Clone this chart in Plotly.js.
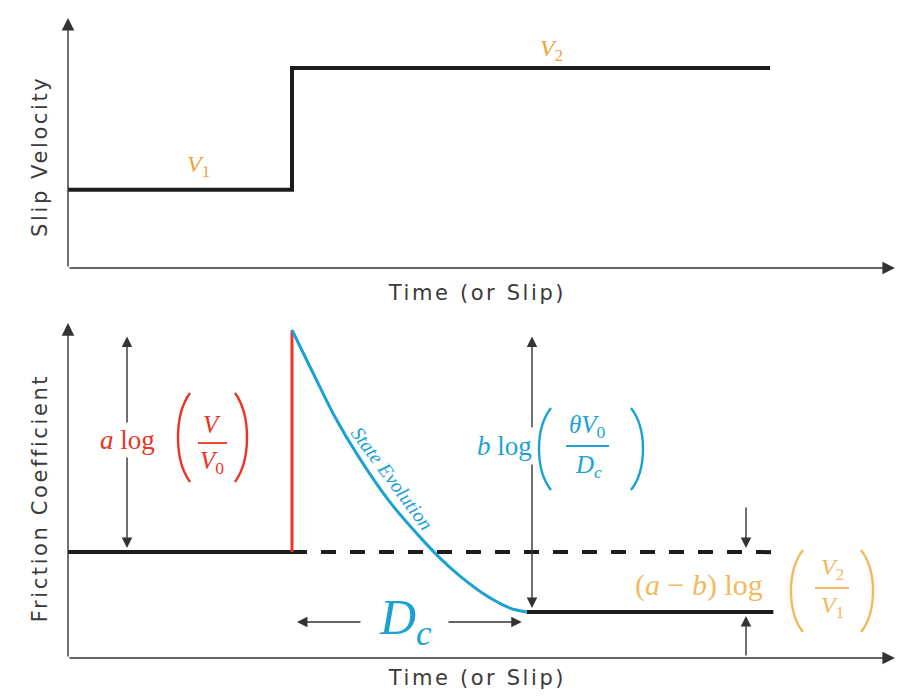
<!DOCTYPE html>
<html>
<head>
<meta charset="utf-8">
<script src="https://cdn.plot.ly/plotly-3.0.1.min.js"></script>
<style>
  html, body { margin:0; padding:0; background:#fff; }
  #chart { width:908px; height:700px; }
  .annotation[data-index="0"] text, .annotation[data-index="1"] text,
  .annotation[data-index="2"] text, .annotation[data-index="3"] text { letter-spacing: 2.6px; }
</style>
</head>
<body>
<div id="chart"></div>
<script>
// ---------- data (arbitrary units) ----------
const topTime   = [0, 27.15, 27.15, 85.1];
const slipVel   = [3.15, 3.15, 8.06, 8.06];

const preX   = [0, 27.15];          const preY   = [3.18, 3.18];
const jumpX  = [27.15, 27.15];      const jumpY  = [3.18, 9.85];
const evolX  = [27.15, 29.70, 32.36, 35.39, 39.03, 42.67, 45.09, 47.52, 50.79, 53.58, 55.6];
const evolY  = [9.85, 8.56, 7.24, 5.98, 4.68, 3.63, 3.00, 2.46, 1.86, 1.50, 1.38];
const refX   = [27.15, 85.5];       const refY   = [3.18, 3.18];
const ssX    = [55.6, 85.5];        const ssY    = [1.38, 1.38];

const xLabel = "Time (or Slip)";
const yLabelTop = "Slip Velocity";
const yLabelBot = "Friction Coefficient";

// ---------- styling ----------
const BLACK = '#1c1c1c', RED = '#ec3326', CYAN = '#1ba2d3', ORANGE = '#eba53c', ORANGE2 = '#f2b95e', AX = '#333';
const SANS = 'DejaVu Sans, sans-serif';
const SERIF = 'Liberation Serif, DejaVu Serif, serif';

// pixel -> axis / paper helpers (plot area: x 68..893, top panel 20..268, bottom panel 325..658)
const X  = px => (px - 68) / 8.25;
const YT = py => (268 - py) / 24.8;
const YB = py => (658 - py) / 33.3;
const PX = px => (px - 68) / 825;
const PY = py => (658 - py) / 638;

const traces = [
  {x: topTime, y: slipVel, xaxis:'x', yaxis:'y', mode:'lines', line:{color:BLACK, width:4}, hoverinfo:'skip'},
  {x: refX, y: refY, xaxis:'x2', yaxis:'y2', mode:'lines', line:{color:BLACK, width:4, dash:'15px,14px'}, hoverinfo:'skip'},
  {x: preX, y: preY, xaxis:'x2', yaxis:'y2', mode:'lines', line:{color:BLACK, width:4}, hoverinfo:'skip'},
  {x: ssX, y: ssY, xaxis:'x2', yaxis:'y2', mode:'lines', line:{color:BLACK, width:4}, hoverinfo:'skip'},
  {x: jumpX, y: jumpY, xaxis:'x2', yaxis:'y2', mode:'lines', line:{color:RED, width:3}, hoverinfo:'skip'},
  {x: evolX, y: evolY, xaxis:'x2', yaxis:'y2', mode:'lines', line:{color:CYAN, width:3, shape:'spline', smoothing:0.8}, hoverinfo:'skip'}
];

function arrow(xr, yr, x, y, ax, ay, both, size) {
  const s = size || 1.5;
  const a = {xref:xr, yref:yr, axref:xr, ayref:yr, x:x, y:y, ax:ax, ay:ay, text:'', showarrow:true,
             arrowhead:2, arrowsize:s, arrowwidth:1.4, arrowcolor:AX, standoff:0, startstandoff:0};
  if (both) { a.arrowside = 'end+start'; a.startarrowhead = 2; a.startarrowsize = s; }
  return a;
}
function label(xr, yr, x, y, text, font, extra) {
  return Object.assign({xref:xr, yref:yr, x:x, y:y, text:text, showarrow:false, font:font,
                        xanchor:'center', yanchor:'middle'}, extra || {});
}

const axFont = {family:SANS, size:21, color:'#3a3a3a'};
const annotations = [
  // sans-serif axis labels (indices 0..3, letter-spaced by CSS)
  label('paper','paper', PX(477), PY(293), xLabel, axFont),
  label('paper','paper', PX(477), PY(678), xLabel, axFont),
  label('paper','paper', PX(40), PY(157), yLabelTop, axFont, {textangle:-90}),
  label('paper','paper', PX(40), PY(498), yLabelBot, axFont, {textangle:-90}),

  // axis arrows
  arrow('x','y', 0, YT(18), 0, 0, false, 1.8),
  arrow('x','y', X(895), 0, 0, 0, false, 1.8),
  arrow('x2','y2', 0, YB(323), 0, 0, false, 1.8),
  arrow('x2','y2', X(895), 0, 0, 0, false, 1.8),

  // measurement arrows
  arrow('x2','y2', X(127), preY[0] + 0.12, X(127), YB(335), true),
  arrow('x2','y2', X(532), ssY[0] + 0.12, X(532), YB(335), true),
  arrow('x2','y2', jumpX[0] + 0.6, YB(622), X(362), YB(622), false),
  arrow('x2','y2', ssX[0] - 0.6, YB(622), X(447), YB(622), false),
  arrow('x2','y2', X(746), refY[0] + 0.12, X(746), YB(506), false),
  arrow('x2','y2', X(746), ssY[0] - 0.12, X(746), YB(657), false),

  // V labels
  label('x','y', X(198), YT(166), '<i>V</i><sub>1</sub>', {family:SERIF, size:24, color:ORANGE}),
  label('x','y', X(551), YT(50), '<i>V</i><sub>2</sub>', {family:SERIF, size:24, color:ORANGE}),

  // a log (V/V0)
  label('x2','y2', X(127), YB(440), '<i>a</i> log', {family:SERIF, size:27, color:RED}, {bgcolor:'#fff', borderpad:2}),
  label('x2','y2', X(212), YB(424), '<i>V</i>', {family:SERIF, size:25, color:RED}),
  label('x2','y2', X(212), YB(462), '<i>V</i><sub>0</sub>', {family:SERIF, size:25, color:RED}),

  // b log (θV0/Dc)
  label('x2','y2', X(504), YB(446), '<i>b</i> log', {family:SERIF, size:27, color:CYAN}, {bgcolor:'#fff', borderpad:3}),
  label('x2','y2', X(587), YB(426), '<i>θV</i><sub>0</sub>', {family:SERIF, size:25, color:CYAN}),
  label('x2','y2', X(588), YB(466), '<i>D</i><sub><i>c</i></sub>', {family:SERIF, size:25, color:CYAN}),

  // (a-b) log (V2/V1)
  label('x2','y2', X(699), YB(585), '(<i>a</i>&nbsp;−&nbsp;<i>b</i>)&nbsp;log', {family:SERIF, size:30, color:ORANGE2}),
  label('x2','y2', X(832), YB(569), '<i>V</i><sub>2</sub>', {family:SERIF, size:24, color:ORANGE2}),
  label('x2','y2', X(832), YB(607), '<i>V</i><sub>1</sub>', {family:SERIF, size:24, color:ORANGE2}),

  // Dc and State Evolution
  label('x2','y2', X(405), YB(621), '<i>D<sub>c</sub></i>', {family:SERIF, size:50, color:CYAN}),
  label('x2','y2', X(392), YB(478), '<i>State Evolution</i>', {family:SERIF, size:20, color:CYAN}, {textangle:53.5})
];

function paren(xr, yr, Yf, pxEdge, pyTop, pyBot, dir, color) {
  // dir = -1 for "(" (bulge to the left), +1 for ")"
  const w = 12, h = pyBot - pyTop;
  const ex = pxEdge - dir * w, cx = pxEdge + dir * w / 3;
  const p = `M ${X(ex)} ${Yf(pyTop)} C ${X(cx)} ${Yf(pyTop + h*0.25)} ${X(cx)} ${Yf(pyBot - h*0.25)} ${X(ex)} ${Yf(pyBot)}`;
  return {type:'path', xref:xr, yref:yr, path:p, line:{color:color, width:2.4}};
}
function fracLine(xr, yr, Yf, x0, x1, py, color) {
  return {type:'line', xref:xr, yref:yr, x0:X(x0), x1:X(x1), y0:Yf(py), y1:Yf(py), line:{color:color, width:1.8}};
}

const shapes = [
  paren('x2','y2', YB, 178, 393, 482, -1, RED),
  paren('x2','y2', YB, 247, 393, 482, 1, RED),
  fracLine('x2','y2', YB, 198, 227, 443, RED),
  paren('x2','y2', YB, 539, 408, 490, -1, CYAN),
  paren('x2','y2', YB, 643, 408, 490, 1, CYAN),
  fracLine('x2','y2', YB, 566, 609, 446, CYAN),
  paren('x2','y2', YB, 791, 550, 632, -1, ORANGE2),
  paren('x2','y2', YB, 873, 550, 632, 1, ORANGE2),
  fracLine('x2','y2', YB, 815, 849, 588, ORANGE2)
];

const hidden = {showgrid:false, zeroline:false, showline:false, showticklabels:false, ticks:'', fixedrange:true};
const layout = {
  width:908, height:700,
  margin:{l:68, r:15, t:20, b:42},
  paper_bgcolor:'#fff', plot_bgcolor:'#fff',
  showlegend:false,
  xaxis:  Object.assign({domain:[0,1], range:[0,100], anchor:'y'}, hidden),
  yaxis:  Object.assign({domain:[0.6113,1], range:[0,10], anchor:'x'}, hidden),
  xaxis2: Object.assign({domain:[0,1], range:[0,100], anchor:'y2'}, hidden),
  yaxis2: Object.assign({domain:[0,0.5219], range:[0,10], anchor:'x2'}, hidden),
  annotations: annotations,
  shapes: shapes
};

Plotly.newPlot('chart', traces, layout, {staticPlot:true, displayModeBar:false});
</script>
</body>
</html>
